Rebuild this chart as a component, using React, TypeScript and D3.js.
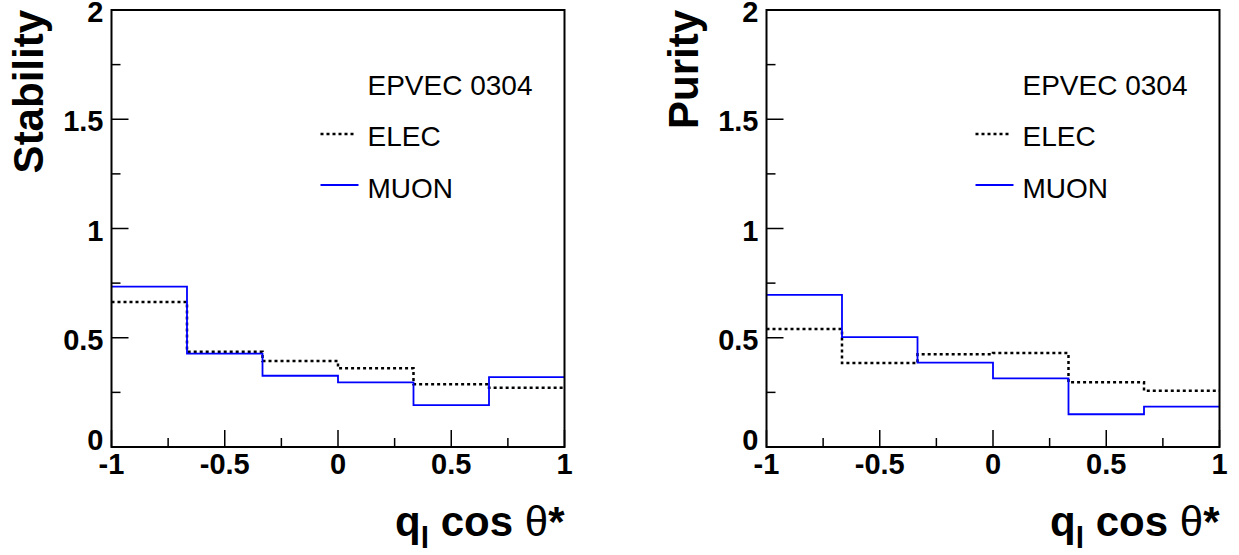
import React from "react";
import * as d3 from "d3";

const binEdges = [-1, -0.6667, -0.3333, 0, 0.3333, 0.6667, 1];
const stabilityElec = [0.664, 0.436, 0.394, 0.36, 0.287, 0.271];
const stabilityMuon = [0.734, 0.427, 0.326, 0.296, 0.192, 0.32];
const purityElec = [0.54, 0.384, 0.424, 0.43, 0.296, 0.258];
const purityMuon = [0.696, 0.503, 0.386, 0.314, 0.15, 0.185];
const yMajorTicks = [0, 0.5, 1, 1.5, 2];
const yTickLabels = ["0", "0.5", "1", "1.5", "2"];
const xMajorTicks = [-1, -0.5, 0, 0.5, 1];
const xTickLabels = ["-1", "-0.5", "0", "0.5", "1"];
const minorTicks = [0.25, 0.75, 1.25, 1.75];
const xMinorTicks = [-0.75, -0.25, 0.25, 0.75];
const legendTitle = "EPVEC 0304";
const seriesNames = ["ELEC", "MUON"];

const FONT = "'Liberation Sans', Arial, Helvetica, sans-serif";

function Panel({ left, yTitle, elec, muon }: { left: number; yTitle: string; elec: number[]; muon: number[] }) {
  const width = 453;
  const top = 10;
  const bottom = 447;
  const x = d3.scaleLinear().domain([-1, 1]).range([left, left + width]);
  const y = d3.scaleLinear().domain([0, 2]).range([bottom, top]);
  const mkPts = (vals: number[]) => {
    const pts: [number, number][] = vals.map((v, i) => [binEdges[i], v]);
    pts.push([binEdges[binEdges.length - 1], vals[vals.length - 1]]);
    return pts;
  };
  const line = d3
    .line<[number, number]>()
    .x((d) => x(d[0]))
    .y((d) => y(d[1]))
    .curve(d3.curveStepAfter);
  const major = 17;
  const minor = 9;
  const lx = left + 209;
  return (
    <g>
      <path d={line(mkPts(elec)) || ""} fill="none" stroke="#000" strokeWidth={2.5} strokeDasharray="3,3" />
      <path d={line(mkPts(muon)) || ""} fill="none" stroke="#0000ff" strokeWidth={1.8} />
      {/* frame */}
      <rect x={left} y={top} width={width} height={bottom - top} fill="none" stroke="#000" strokeWidth={2} />
      {/* y ticks */}
      {yMajorTicks.map((t) => (
        <line key={"ym" + t} x1={left} x2={left + major} y1={y(t)} y2={y(t)} stroke="#000" strokeWidth={1.5} />
      ))}
      {minorTicks.map((t) => (
        <line key={"yn" + t} x1={left} x2={left + minor} y1={y(t)} y2={y(t)} stroke="#000" strokeWidth={1.5} />
      ))}
      {yMajorTicks.map((t, i) => (
        <text
          key={"yl" + t}
          x={left - 8}
          y={y(t) + (t === 0 ? 3 : 12)}
          textAnchor="end"
          fontFamily={FONT}
          fontWeight="bold"
          fontSize={29}
        >
          {yTickLabels[i]}
        </text>
      ))}
      {/* x ticks */}
      {xMajorTicks.map((t) => (
        <line key={"xm" + t} x1={x(t)} x2={x(t)} y1={bottom} y2={bottom - major} stroke="#000" strokeWidth={1.5} />
      ))}
      {xMinorTicks.map((t) => (
        <line key={"xn" + t} x1={x(t)} x2={x(t)} y1={bottom} y2={bottom - minor} stroke="#000" strokeWidth={1.5} />
      ))}
      {xMajorTicks.map((t, i) => (
        <text key={"xl" + t} x={x(t)} y={bottom + 27} textAnchor="middle" fontFamily={FONT} fontWeight="bold" fontSize={29}>
          {xTickLabels[i]}
        </text>
      ))}
      {/* axis titles */}
      <text
        transform={`translate(${left - 69},${top}) rotate(-90)`}
        textAnchor="end"
        fontFamily={FONT}
        fontWeight="bold"
        fontSize={42}
      >
        {yTitle}
      </text>
      <text x={left + width} y={536} textAnchor="end" fontFamily={FONT} fontWeight="bold" fontSize={42}>
        q<tspan fontSize={30} dy={12}>l</tspan>
        <tspan dy={-12}> cos </tspan>
        <tspan fontWeight="normal">θ</tspan>*
      </text>
      {/* legend */}
      <text x={lx + 47} y={95} fontFamily={FONT} fontSize={28}>
        {legendTitle}
      </text>
      <line x1={lx} x2={lx + 36} y1={134} y2={134} stroke="#000" strokeWidth={2.5} strokeDasharray="3,3" />
      <text x={lx + 47} y={146} fontFamily={FONT} fontSize={28}>
        {seriesNames[0]}
      </text>
      <line x1={lx} x2={lx + 38} y1={185} y2={185} stroke="#0000ff" strokeWidth={1.8} />
      <text x={lx + 47} y={198} fontFamily={FONT} fontSize={28}>
        {seriesNames[1]}
      </text>
    </g>
  );
}

export default function App() {
  return (
    <svg
      width={1239}
      height={555}
      style={{ position: "absolute", left: 0, top: 0, background: "#fff" }}
    >
      <rect width={1239} height={555} fill="#fff" />
      <Panel left={111.5} yTitle="Stability" elec={stabilityElec} muon={stabilityMuon} />
      <Panel left={766.5} yTitle="Purity" elec={purityElec} muon={purityMuon} />
    </svg>
  );
}
